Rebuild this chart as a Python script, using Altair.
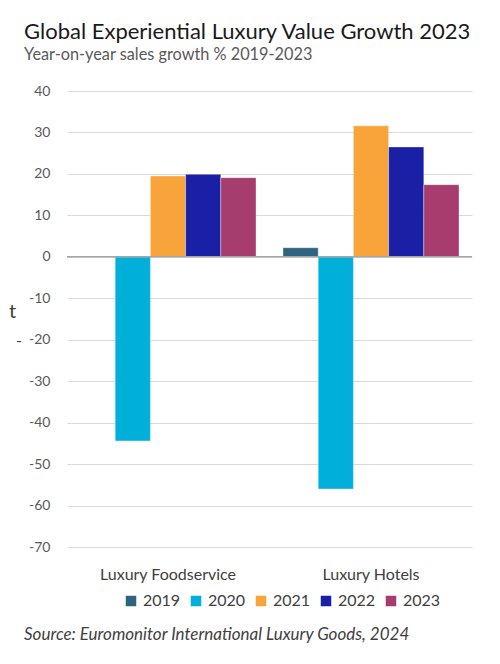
import altair as alt
import pandas as pd

categories = ["Luxury Foodservice", "Luxury Hotels"]
years = ["2019", "2020", "2021", "2022", "2023"]
foodservice = [0.2, -44.4, 19.5, 19.9, 19.1]
hotels = [2.2, -56.0, 31.6, 26.5, 17.4]
colors = ["#2E6480", "#00B0DA", "#F9A43A", "#1A20A6", "#A63D6E"]
y_ticks = [40, 30, 20, 10, 0, -10, -20, -30, -40, -50, -60, -70]

rows = []
for cat, vals in zip(categories, [foodservice, hotels]):
    for y, v in zip(years, vals):
        rows.append({"category": cat, "year": y, "value": v})
df = pd.DataFrame(rows)

FONT = "Lato"

bars = alt.Chart(df).mark_bar(stroke="white", strokeWidth=0.6, strokeOpacity=0.6).encode(
    x=alt.X("category:N", sort=categories,
            scale=alt.Scale(paddingInner=0.133, paddingOuter=0.064),
            axis=alt.Axis(title=None, labelAngle=0, ticks=False, domain=False,
                          labelFontSize=16, labelColor="#404040", labelFont=FONT,
                          labelPadding=19, grid=False)),
    xOffset=alt.XOffset("year:N", sort=years, scale=alt.Scale(paddingInner=0, paddingOuter=0)),
    y=alt.Y("value:Q", scale=alt.Scale(domain=[-70, 40], nice=False),
            axis=alt.Axis(title=None, values=y_ticks, ticks=False, domain=False,
                          labelExpr="'' + datum.value",
                          labelFontSize=14, labelColor="#595959", labelFont=FONT,
                          labelPadding=17, gridColor="#d9d9d9", gridWidth=1.2)),
    color=alt.Color("year:N", sort=years, scale=alt.Scale(domain=years, range=colors),
                    legend=alt.Legend(title=None, orient="none", direction="horizontal",
                                      legendX=56, legendY=502, symbolType="square",
                                      symbolSize=110, symbolStrokeWidth=0,
                                      labelFontSize=16, labelColor="#404040", labelFont=FONT,
                                      columnPadding=7, labelOffset=4)),
)

zero = alt.Chart(pd.DataFrame({"z": [0]})).mark_rule(color="#a6a6a6", strokeWidth=1.6).encode(
    y="z:Q"
)

notes = pd.DataFrame({
    "text": ["Source: Euromonitor International Luxury Goods, 2024"],
})
source = alt.Chart(notes).mark_text(
    align="left", baseline="alphabetic", fontSize=17, fontStyle="italic",
    color="#404040", font=FONT
).encode(text="text:N", x=alt.value(-43), y=alt.value(549))

stray = alt.Chart(pd.DataFrame({"text": ["t"]})).mark_text(
    align="left", baseline="alphabetic", fontSize=20, color="#404040", font=FONT
).encode(text="text:N", x=alt.value(-58), y=alt.value(227))
stray2 = alt.Chart(pd.DataFrame({"text": ["-"]})).mark_text(
    align="left", baseline="alphabetic", fontSize=16, color="#404040", font=FONT
).encode(text="text:N", x=alt.value(-51), y=alt.value(255))

chart = alt.layer(bars, zero, source, stray, stray2).properties(
    width=405, height=456,
    title=alt.TitleParams(
        text="Global Experiential Luxury Value Growth 2023",
        subtitle="Year-on-year sales growth % 2019-2023",
        anchor="start", frame="group", dx=-43, offset=20,
        font=FONT, fontSize=22, fontWeight="normal", color="#1a1a1a",
        subtitleFont=FONT, subtitleFontSize=16.3, subtitleColor="#595959",
        subtitlePadding=3,
    ),
    autosize=alt.AutoSizeParams(type="none"),
    padding={"left": 59, "top": 83, "right": 20, "bottom": 110},
).configure_view(stroke=None)

chart.save("out.html", embed_options={"renderer": "svg", "actions": False})
